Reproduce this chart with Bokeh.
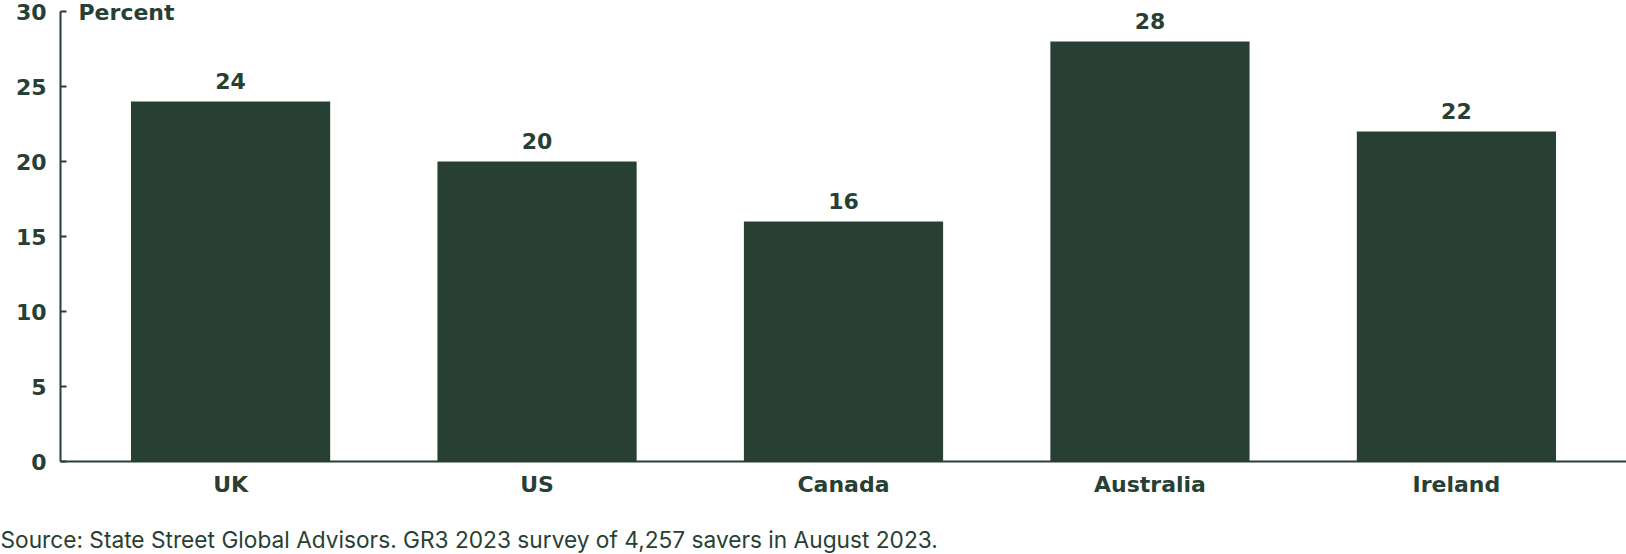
from bokeh.plotting import figure
from bokeh.models import FactorRange, Range1d, Label, Title, FixedTicker, ColumnDataSource
from bokeh.core.properties import value
from bokeh.embed import file_html
from bokeh.resources import INLINE

categories = ["UK", "US", "Canada", "Australia", "Ireland"]
values = [24, 20, 16, 28, 22]
value_labels = ["24", "20", "16", "28", "22"]
y_ticks = [0, 5, 10, 15, 20, 25, 30]
unit_label = "Percent"
source_note = "Source: State Street Global Advisors. GR3 2023 survey of 4,257 savers in August 2023."

GREEN = "#283f33"
BOLD_FONT = "DejaVu Sans"
FONT = "Inter"

src = ColumnDataSource(dict(cat=categories, val=values, lbl=value_labels))

p = figure(
    width=1626, height=554,
    x_range=FactorRange(*categories, range_padding=0.055, range_padding_units="absolute"),
    y_range=Range1d(0, 30 + 11 / 15),
    output_backend="svg", toolbar_location=None,
    min_border_left=60, min_border_right=0, min_border_top=0, min_border_bottom=93,
)
p.outline_line_color = None
p.xgrid.visible = False
p.ygrid.visible = False
p.background_fill_color = "white"
p.border_fill_color = "white"

p.vbar(x="cat", top="val", width=0.65, source=src, fill_color=GREEN, line_color=None)

p.text(x="cat", y="val", text="lbl", source=src, text_align="center", text_baseline="bottom",
       y_offset=-13, text_font=value(BOLD_FONT), text_font_style="bold", text_font_size="22px",
       text_color=GREEN)

ya = p.yaxis[0]
ya.bounds = (0, 30)
ya.ticker = FixedTicker(ticks=y_ticks)
ya.major_tick_in = 6
ya.major_tick_out = 0
ya.minor_tick_line_color = None
ya.axis_line_width = 2
ya.axis_line_color = GREEN
ya.major_tick_line_color = GREEN
ya.major_tick_line_width = 2
ya.major_label_standoff = 14
ya.major_label_text_font = BOLD_FONT
ya.major_label_text_font_style = "bold"
ya.major_label_text_font_size = "22px"
ya.major_label_text_color = GREEN

xa = p.xaxis[0]
xa.major_tick_in = 0
xa.major_tick_out = 0
xa.minor_tick_line_color = None
xa.axis_line_width = 2
xa.axis_line_color = GREEN
xa.major_label_standoff = 10
xa.major_label_text_font = BOLD_FONT
xa.major_label_text_font_style = "bold"
xa.major_label_text_font_size = "22px"
xa.major_label_text_color = GREEN

p.add_layout(Label(x=18, y=449, x_units="screen", y_units="screen", text=unit_label,
                   text_baseline="middle", text_align="left", text_font=BOLD_FONT,
                   text_font_style="bold", text_font_size="22px", text_color=GREEN))

# invisible spacer between the axis labels and the source note
p.add_layout(Title(text=" ", text_font_size="1px", standoff=21), "below")

p.add_layout(Title(text=source_note, align="left", offset=-60, text_font=FONT,
                   text_font_style="normal", text_font_size="22.7px", text_color=GREEN,
                   standoff=0), "below")

open("out.html", "w").write(file_html(p, INLINE))
